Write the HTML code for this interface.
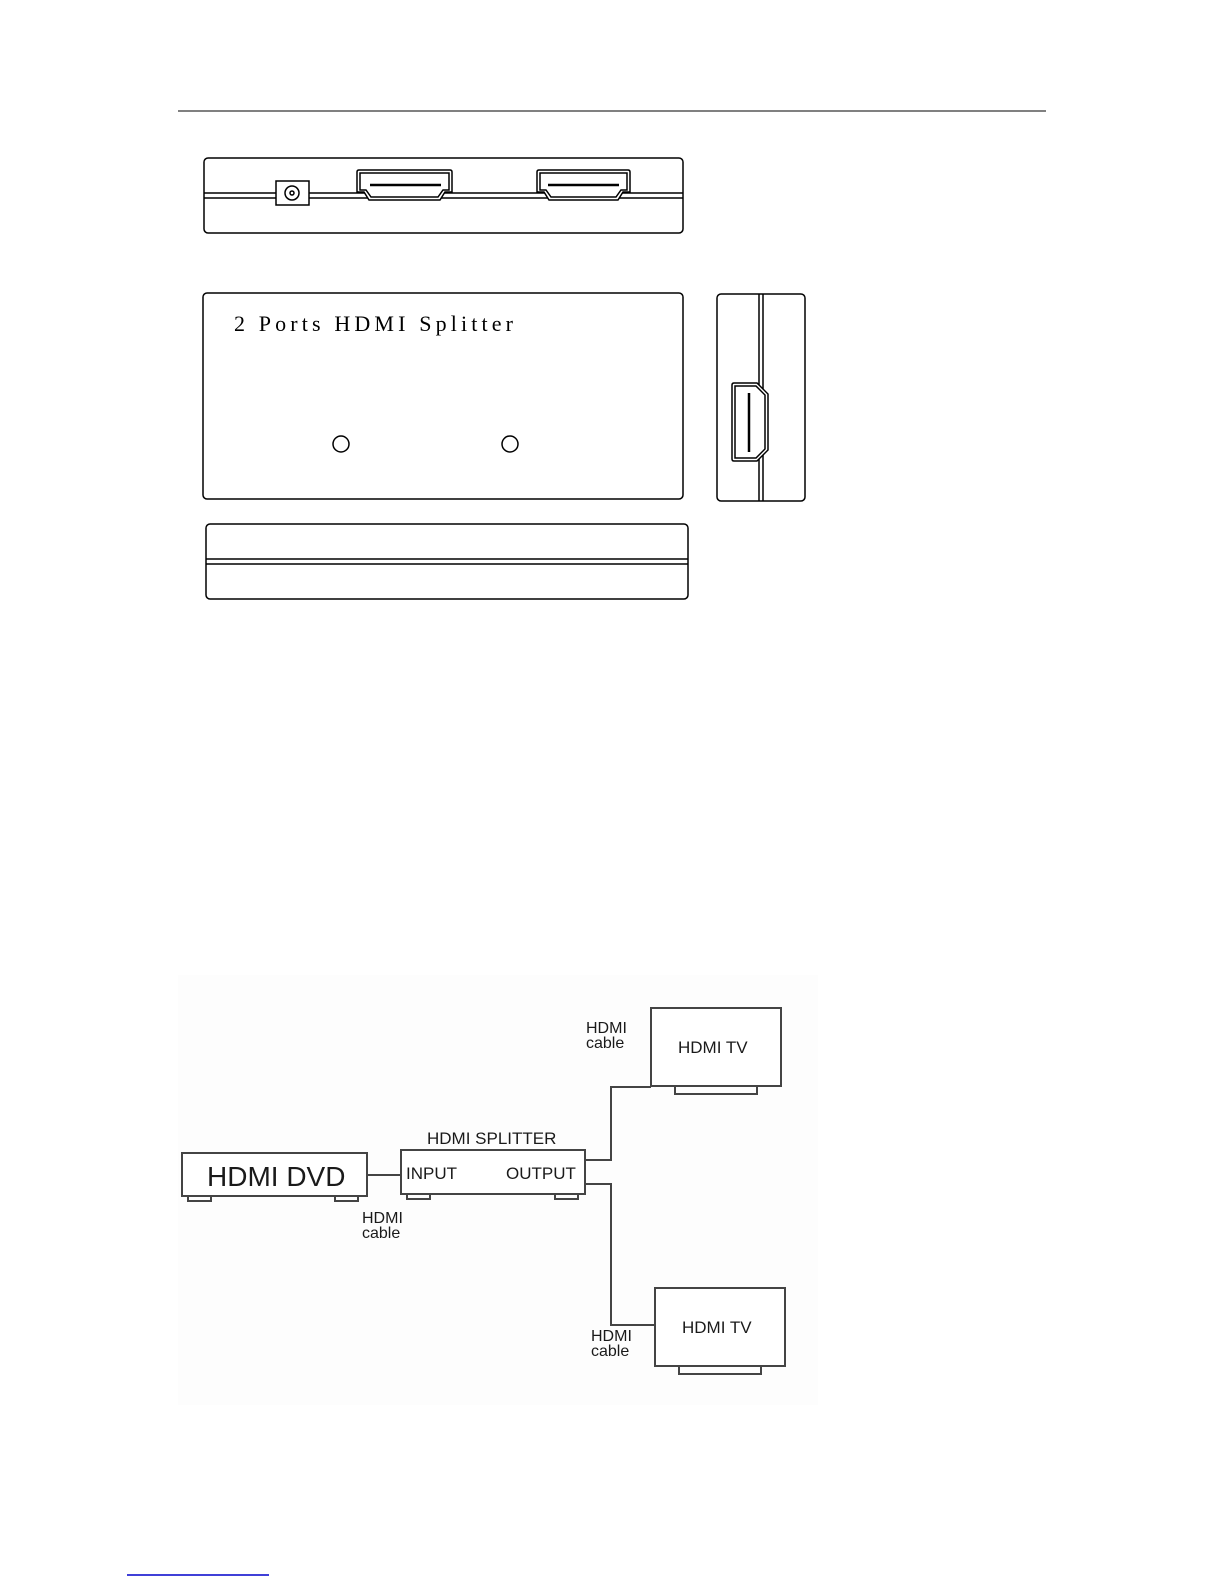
<!DOCTYPE html>
<html><head><meta charset="utf-8"><style>html,body{margin:0;padding:0;background:#fff}svg{display:block}</style></head><body>
<svg width="1225" height="1585" viewBox="0 0 1225 1585" xmlns="http://www.w3.org/2000/svg">
<line x1="178" y1="111" x2="1046" y2="111" stroke="#000" stroke-width="1"/>
<g fill="none" stroke="#000" stroke-width="1.5">
<rect x="204" y="158" width="479" height="75" rx="4"/>
<line x1="204" y1="193" x2="683" y2="193"/>
<line x1="204" y1="198" x2="683" y2="198"/>
<rect x="276" y="181" width="33" height="24" fill="#fff"/>
<circle cx="292" cy="193" r="7"/>
<circle cx="292" cy="193" r="2"/>
<path d="M357 172 Q357 170 359 170 L450 170 Q452 170 452 172 L452 192 L445 192 L440 200 L369 200 L364 192 L357 192 Z" fill="#fff"/>
<path d="M360 173 L449 173 L449 190 L443 190 L438 197 L371 197 L366 190 L360 190 Z"/>
<line x1="370" y1="185" x2="441" y2="185" stroke-width="2.5"/>
<path d="M537 172 Q537 170 539 170 L628 170 Q630 170 630 172 L630 192 L623 192 L618 200 L549 200 L544 192 L537 192 Z" fill="#fff"/>
<path d="M540 173 L627 173 L627 190 L621 190 L616 197 L551 197 L546 190 L540 190 Z"/>
<line x1="548" y1="185" x2="619" y2="185" stroke-width="2.5"/>
<rect x="203" y="293" width="480" height="206" rx="4"/>
<circle cx="341" cy="444" r="8"/>
<circle cx="510" cy="444" r="8"/>
<rect x="717" y="294" width="88" height="207" rx="4"/>
<line x1="759" y1="294" x2="759" y2="501"/>
<line x1="763" y1="294" x2="763" y2="501"/>
<path d="M734 383 L757 383 L768 394 L768 450 L757 461 L734 461 Q732 461 732 459 L732 385 Q732 383 734 383 Z" fill="#fff"/>
<path d="M735 386 L756 386 L765 395 L765 449 L756 458 L735 458 Z"/>
<line x1="749" y1="393" x2="749" y2="452" stroke-width="2.5"/>
<rect x="206" y="524" width="482" height="75" rx="4"/>
<line x1="206" y1="559" x2="688" y2="559"/>
<line x1="206" y1="564" x2="688" y2="564"/>
</g>
<text x="234" y="331" font-family="Liberation Serif, serif" font-size="22" textLength="279" lengthAdjust="spacing">2 Ports HDMI Splitter</text>
<rect x="178" y="975" width="640" height="430" fill="#fdfdfd"/>
<g fill="none" stroke="#444" stroke-width="2">
<rect x="182" y="1153" width="185" height="43" fill="#fff"/>
<rect x="188" y="1196" width="23" height="5"/>
<rect x="335" y="1196" width="23" height="5"/>
<rect x="401" y="1150" width="184" height="44" fill="#fff"/>
<rect x="407" y="1194" width="23" height="5"/>
<rect x="555" y="1194" width="23" height="5"/>
<line x1="367" y1="1175" x2="401" y2="1175"/>
<polyline points="585,1160 611,1160 611,1087 651,1087"/>
<polyline points="585,1184 611,1184 611,1325 655,1325"/>
<rect x="651" y="1008" width="130" height="78" fill="#fff"/>
<rect x="675" y="1086" width="82" height="8"/>
<rect x="655" y="1288" width="130" height="78" fill="#fff"/>
<rect x="679" y="1366" width="82" height="8"/>
</g>
<g font-family="Liberation Sans, sans-serif" fill="#1a1a1a">
<text x="207" y="1186" font-size="28">HDMI DVD</text>
<text x="427" y="1144" font-size="17">HDMI SPLITTER</text>
<text x="406" y="1179" font-size="17">INPUT</text>
<text x="506" y="1179" font-size="17">OUTPUT</text>
<text x="678" y="1053" font-size="17">HDMI TV</text>
<text x="682" y="1333" font-size="17">HDMI TV</text>
<text x="362" y="1223" font-size="16">HDMI</text>
<text x="362" y="1238" font-size="16">cable</text>
<text x="586" y="1033" font-size="16">HDMI</text>
<text x="586" y="1048" font-size="16">cable</text>
<text x="591" y="1341" font-size="16">HDMI</text>
<text x="591" y="1356" font-size="16">cable</text>
</g>
<line x1="127" y1="1575" x2="269" y2="1575" stroke="#0000cc" stroke-width="1.5"/>
</svg>
</body></html>
